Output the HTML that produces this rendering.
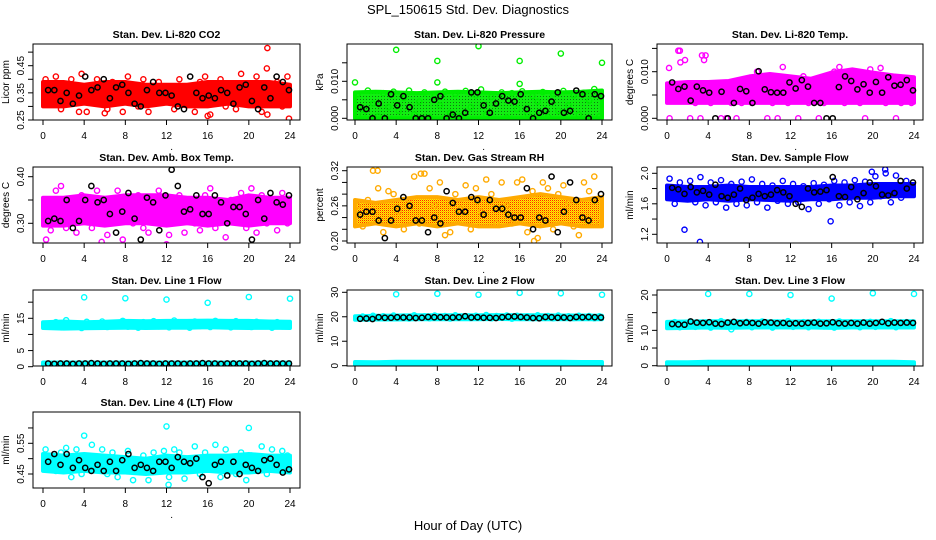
<!DOCTYPE html>
<html><head><meta charset="utf-8">
<style>
html,body{margin:0;padding:0;background:#fff;}
svg{display:block;font-family:"Liberation Sans",sans-serif;}
</style></head>
<body>
<svg id="chart" width="936" height="540" viewBox="0 0 936 540" xmlns="http://www.w3.org/2000/svg">
<defs>
<pattern id="pGreen" width="3" height="3" patternUnits="userSpaceOnUse"><rect width="3" height="3" fill="#11ee11"/><rect width="1" height="1" fill="#117711"/></pattern>
<pattern id="pRH" width="2" height="2" patternUnits="userSpaceOnUse"><rect width="2" height="2" fill="#ffee00"/><rect width="1" height="1" fill="#ff2200"/><rect x="1" y="1" width="1" height="1" fill="#ffaa00"/></pattern>
</defs>
<text x="468" y="14" text-anchor="middle" font-size="13">SPL_150615  Std. Dev. Diagnostics</text>
<text x="468" y="530" text-anchor="middle" font-size="13">Hour of Day (UTC)</text>
</svg>
<script>
// ---- data arrays (hours: band every 2h, points every 0.5h from 0.25, black every 0.6h from 0.5) ----
const xTicks = [0,4,8,12,16,20,24];

const co2Lo = [0.30,0.30,0.31,0.30,0.31,0.30,0.31,0.30,0.30,0.31,0.30,0.30,0.30];
const co2Hi = [0.39,0.39,0.38,0.39,0.39,0.38,0.38,0.38,0.39,0.39,0.39,0.39,0.38];
const co2Pts = [0.40,0.38,0.41,0.29,0.36,0.40,0.33,0.42,0.28,0.37,0.40,0.31,0.29,0.39,0.34,0.28,0.41,0.36,0.30,0.40,0.28,0.35,0.39,0.32,0.36,0.29,0.40,0.33,0.37,0.28,0.39,0.41,0.27,0.34,0.40,0.30,0.38,0.29,0.42,0.33,0.36,0.41,0.28,0.44,0.32,0.39,0.30,0.41];
const co2Blk = [0.36,0.36,0.32,0.35,0.31,0.34,0.41,0.36,0.37,0.40,0.33,0.37,0.38,0.35,0.31,0.30,0.36,0.39,0.35,0.35,0.34,0.30,0.29,0.41,0.35,0.33,0.34,0.33,0.36,0.35,0.31,0.37,0.38,0.32,0.29,0.37,0.33,0.41,0.39,0.36];
const co2OutH = [21.8,23.9,16,21.8,3.5,6];
const co2OutV = [0.515,0.255,0.265,0.27,0.28,0.275];

const presLo = [0,0,0,0,0,0,0,0,0,0,0,0,0];
const presHi = [0.0070,0.0072,0.0070,0.0068,0.0070,0.0072,0.0070,0.0068,0.0070,0.0072,0.0070,0.0072,0.0075];
const presPts = [0.0065,0.001,0.0075,0.004,0.0005,0.0068,0.003,0.0072,0.002,0.0055,0.0075,0.001,0.0045,0.007,0.0002,0.006,0.0035,0.0072,0.0015,0.0066,0.0005,0.0074,0.003,0.0062,0.0078,0.001,0.0058,0.004,0.007,0.0002,0.0068,0.0025,0.0073,0.0012,0.006,0.0045,0.0071,0.0003,0.0066,0.002,0.0074,0.0035,0.0062,0.001,0.0069,0.0048,0.0079,0.0005];
const presBlk = [0.003,0.0025,0,0.004,0,0.0065,0.0035,0.006,0.003,0,0,0,0.005,0.006,0,0.001,0,0.0015,0.007,0.007,0.0035,0.0015,0.004,0.006,0.0048,0.0045,0.0065,0.0025,0,0.0015,0.002,0.0045,0.007,0.0015,0.002,0.0075,0.0065,0,0.0065,0.006];
const presOutH = [0,4,8,8,12,16,16,20,24];
const presOutV = [0.0097,0.0185,0.0155,0.0097,0.0195,0.0155,0.0093,0.0175,0.015];

const tempLo = [0.0033,0.0033,0.0033,0.0033,0.0033,0.0033,0.0033,0.0033,0.0033,0.0033,0.0033,0.0033,0.0033];
const tempHi = [0.0075,0.0078,0.0078,0.0080,0.0090,0.0095,0.0090,0.0085,0.0098,0.0105,0.0098,0.0092,0.0088];
const tempPts = [0,0.0065,0.0145,0.0125,0,0.0033,0,0.0135,0.0033,0.0060,0,0,0.0033,0,0.0033,0.0085,0.0033,0.0100,0.0060,0,0.0033,0,0.0110,0.0033,0.0062,0,0.0090,0.0033,0.0070,0,0.0033,0.0045,0.0100,0.0110,0.0033,0.0095,0.0060,0.0033,0,0.0105,0.0090,0.0108,0.0033,0.0080,0,0.0033,0.0085,0.0033];
const tempBlk = [0.0077,0.0063,0.0068,0.0038,0.0068,0.006,0.0055,0,0.0057,0,0.0033,0.0063,0.0058,0.0033,0.0101,0.0062,0.0056,0.0055,0.0055,0.0077,0.0064,0.0082,0.0068,0.0033,0.0033,0,0,0.0067,0.0090,0.0080,0.0062,0.0073,0.0055,0.0078,0.0055,0.0088,0.0070,0.0072,0.0082,0.0060];
const tempOutH = [0.2,1.1,1.3,3.4,3.6];
const tempOutV = [0.0108,0.0145,0.0120,0.0135,0.0125];

const ambLo = [0.295,0.295,0.300,0.295,0.300,0.300,0.295,0.300,0.295,0.300,0.295,0.300,0.300];
const ambHi = [0.355,0.355,0.360,0.355,0.360,0.360,0.360,0.355,0.355,0.350,0.360,0.355,0.355];
const ambPts = [0.345,0.285,0.37,0.38,0.29,0.35,0.28,0.36,0.33,0.29,0.37,0.31,0.275,0.345,0.37,0.265,0.34,0.30,0.36,0.29,0.28,0.35,0.37,0.30,0.275,0.34,0.36,0.28,0.35,0.30,0.285,0.36,0.375,0.29,0.33,0.27,0.35,0.31,0.365,0.29,0.375,0.28,0.36,0.30,0.35,0.285,0.365,0.30];
const ambBlk = [0.305,0.31,0.305,0.35,0.29,0.305,0.35,0.38,0.345,0.35,0.32,0.28,0.325,0.365,0.31,0.265,0.355,0.345,0.285,0.36,0.415,0.38,0.325,0.33,0.36,0.32,0.32,0.36,0.345,0.30,0.335,0.335,0.32,0.265,0.35,0.31,0.365,0.345,0.34,0.36];
const ambOutH = [0.3,5.7,12.0];
const ambOutV = [0.265,0.26,0.255];

const rhLo = [0.225,0.23,0.225,0.23,0.225,0.23,0.225,0.225,0.23,0.225,0.23,0.225,0.225];
const rhHi = [0.270,0.265,0.270,0.275,0.275,0.270,0.275,0.270,0.275,0.280,0.275,0.270,0.275];
const rhPts = [0.26,0.225,0.27,0.32,0.29,0.215,0.285,0.28,0.25,0.22,0.27,0.31,0.23,0.315,0.29,0.26,0.30,0.21,0.215,0.28,0.255,0.295,0.22,0.29,0.25,0.305,0.28,0.23,0.30,0.26,0.23,0.30,0.305,0.215,0.285,0.205,0.30,0.29,0.22,0.28,0.295,0.265,0.225,0.21,0.30,0.285,0.31,0.23];
const rhBlk = [0.245,0.25,0.25,0.235,0.205,0.235,0.255,0.275,0.26,0.235,0.235,0.215,0.24,0.23,0.285,0.265,0.25,0.25,0.275,0.27,0.245,0.27,0.255,0.255,0.245,0.24,0.24,0.29,0.22,0.24,0.235,0.31,0.215,0.25,0.30,0.27,0.24,0.235,0.27,0.28];
const rhOutH = [17.4,2.2,6.4];
const rhOutV = [0.20,0.32,0.315];

const flowLo = [1.66,1.64,1.66,1.64,1.66,1.65,1.64,1.66,1.66,1.68,1.68,1.70,1.70];
const flowHi = [1.84,1.82,1.82,1.84,1.82,1.82,1.82,1.82,1.84,1.84,1.86,1.86,1.86];
const flowPts = [1.93,1.60,1.88,1.78,1.90,1.62,1.95,1.58,1.88,1.62,1.91,1.55,1.86,1.60,1.89,1.58,1.92,1.62,1.86,1.55,1.84,1.64,1.90,1.60,1.86,1.62,1.83,1.53,1.87,1.60,1.85,1.66,1.90,1.58,1.88,1.62,1.91,1.57,1.89,1.62,1.96,1.70,2.00,1.62,1.97,1.68,1.90,1.72];
const flowBlk = [1.81,1.79,1.73,1.82,1.75,1.77,1.72,1.85,1.70,1.68,1.72,1.80,1.65,1.68,1.73,1.70,1.72,1.78,1.75,1.70,1.60,1.56,1.80,1.75,1.76,1.78,1.95,1.70,1.69,1.82,1.66,1.74,1.88,1.83,1.72,1.71,1.74,1.90,1.80,1.88];
const flowOutH = [1.7,3.2,15.9,19.9,21.2];
const flowOutV = [1.26,1.10,1.37,2.02,2.05];

const l1Lo = [12.0,11.8,11.9,12.0,12.1,12.0,12.1,12.1,12.2,12.1,12.0,12.1,12.0];
const l1Hi = [13.8,14.0,13.8,13.9,14.2,14.1,14.2,14.2,14.3,14.2,14.2,14.0,13.9];
const l1LowLo = [0.3,0.3,0.3,0.3,0.3,0.3,0.3,0.3,0.3,0.3,0.3,0.3,0.3];
const l1LowHi = [1.3,1.3,1.3,1.3,1.3,1.3,1.3,1.3,1.3,1.3,1.3,1.3,1.3];
const l1Pts = [13.2,12.5,13.8,12.2,14.4,12.8,13.4,12.0,13.9,12.6,13.1,14.0,12.3,13.6,12.9,14.2,12.4,13.5,12.1,13.8,12.7,14.1,12.5,13.3,12.2,14.3,12.9,13.6,12.1,14.0,12.6,13.7,12.3,14.2,12.8,13.4,12.2,14.1,12.7,13.5,12.3,13.9,12.6,13.2,12.1,13.8,12.5,13.4];
const l1Blk = [1.0,0.9,1.0,1.0,0.9,1.0,1.0,1.1,1.0,0.9,1.0,1.0,1.0,0.9,1.0,1.1,1.0,1.0,0.9,1.0,1.0,1.0,0.9,1.0,1.0,1.1,1.0,1.0,0.9,1.0,1.0,1.0,1.0,0.9,1.0,1.1,1.0,1.0,1.0,1.0];
const l1OutH = [4,8,12,16,20,24];
const l1OutV = [21.5,21.2,20.8,19.8,21.6,21.1];

const l2Lo = [18.8,18.9,18.9,19.0,19.0,19.0,19.0,19.1,19.0,19.0,19.0,19.0,19.0];
const l2Hi = [20.2,20.4,20.5,20.6,20.6,20.6,20.6,20.7,20.6,20.6,20.5,20.5,20.4];
const l2LowLo = [0.3,0.3,0.3,0.3,0.3,0.3,0.3,0.3,0.3,0.3,0.3,0.3,0.3];
const l2LowHi = [1.5,1.4,1.6,1.6,1.6,1.6,1.6,1.6,1.6,1.6,1.6,1.5,1.5];
const l2Pts = [19.5,20.1,19.2,20.4,19.6,20.2,19.4,20.5,19.8,20.1,19.3,20.6,19.7,20.2,19.4,20.5,19.9,20.3,19.3,20.6,19.7,20.2,19.5,20.4,19.8,20.7,19.4,20.3,19.6,20.5,19.2,20.4,19.8,20.2,19.5,20.6,19.7,20.3,19.4,20.5,19.9,20.2,19.5,20.4,19.6,20.3,19.4,20.2];
const l2Blk = [19.2,19.3,19.1,19.8,19.6,19.6,19.8,19.7,19.7,19.5,19.6,19.9,19.8,19.8,19.7,19.7,19.8,20.2,19.7,19.8,19.6,19.6,19.5,19.8,20.0,20.1,19.9,19.7,19.5,19.4,19.9,19.8,19.6,19.7,19.5,19.9,19.8,19.9,19.8,19.7];
const l2OutH = [4,8,12,16,20,24];
const l2OutV = [29.2,29.4,29.0,29.8,29.6,29.0];

const l3Lo = [10.6,10.7,10.8,10.7,10.8,10.8,10.8,10.8,10.7,10.8,10.8,10.8,10.8];
const l3Hi = [12.4,12.5,12.6,12.6,12.6,12.6,12.5,12.6,12.6,12.6,12.6,12.6,12.6];
const l3LowLo = [0.2,0.2,0.2,0.2,0.2,0.2,0.2,0.2,0.2,0.2,0.2,0.2,0.2];
const l3LowHi = [1.0,1.0,1.1,1.1,1.1,1.1,1.1,1.1,1.1,1.1,1.1,1.1,1.0];
const l3Pts = [11.2,12.3,10.9,11.8,12.5,11.0,11.6,12.2,10.8,11.9,12.6,11.1,10.3,12.1,11.4,12.4,10.9,11.7,12.5,11.2,10.8,12.2,11.5,12.6,11.0,11.8,12.3,10.9,11.6,12.4,11.1,12.0,10.8,12.5,11.3,11.9,12.2,10.9,11.6,12.4,11.0,12.1,11.5,12.6,10.9,11.8,12.3,11.2];
const l3Blk = [11.8,11.7,11.6,12.5,12.2,12.1,12.3,11.9,11.8,12.2,12.4,12.0,12.2,12.1,11.9,12.3,12.2,12.0,12.1,11.9,12.0,11.9,12.1,12.2,11.9,12.0,12.3,12.0,11.9,12.1,11.9,12.2,11.9,12.1,12.4,12.0,12.2,12.1,12.2,12.1];
const l3OutH = [4,8,12,16,20,24];
const l3OutV = [20.3,20.3,20.0,19.0,20.5,20.3];

const l4Lo = [0.460,0.455,0.460,0.455,0.455,0.450,0.455,0.455,0.460,0.455,0.455,0.460,0.455];
const l4Hi = [0.515,0.510,0.515,0.510,0.505,0.500,0.510,0.505,0.510,0.510,0.515,0.510,0.510];
const l4Pts = [0.53,0.47,0.46,0.52,0.535,0.44,0.53,0.45,0.50,0.545,0.48,0.53,0.45,0.52,0.44,0.50,0.525,0.43,0.49,0.51,0.43,0.52,0.48,0.525,0.44,0.53,0.52,0.435,0.50,0.54,0.45,0.52,0.48,0.545,0.44,0.53,0.50,0.45,0.52,0.43,0.51,0.47,0.54,0.45,0.53,0.49,0.525,0.51];
const l4Blk = [0.49,0.515,0.48,0.515,0.47,0.495,0.47,0.46,0.48,0.46,0.49,0.46,0.495,0.515,0.47,0.48,0.47,0.46,0.49,0.49,0.47,0.505,0.49,0.485,0.50,0.44,0.42,0.48,0.49,0.445,0.49,0.45,0.48,0.47,0.46,0.495,0.50,0.48,0.455,0.465];
const l4OutH = [12,20,4,12.2];
const l4OutV = [0.605,0.60,0.575,0.415];

// ---- layout (not data) ----
const colBox = [[33,300],[347,612],[657,923]];
const colX0 = [43,355,667];
const pxPerHr = 247/24;
const rowTop = [44,167,290,412];
const boxH = 76;

const panels = [
 {id:'co2',title:'Stan. Dev. Li-820 CO2',ylab:'Licor ppm',r:0,c:0,v0:0.25,p0:120,v1:0.45,p1:65.7,ticks:[0.25,0.30,0.35,0.40,0.45,0.50],labels:['0.25','0.35','0.45'],color:'#ff0000',fill:'#ff0000',lo:co2Lo,hi:co2Hi,pts:co2Pts,blk:co2Blk,oh:co2OutH,ov:co2OutV,dot:true},
 {id:'pressure',title:'Stan. Dev. Li-820 Pressure',ylab:'kPa',r:0,c:1,v0:0,p0:118.3,v1:0.01,p1:81.3,ticks:[0,0.005,0.01,0.015],labels:['0.000','0.010'],color:'#00ee00',fill:'url(#pGreen)',lo:presLo,hi:presHi,pts:presPts,blk:presBlk,oh:presOutH,ov:presOutV,dot:true},
 {id:'temp',title:'Stan. Dev. Li-820 Temp.',ylab:'degrees C',r:0,c:2,v0:0,p0:118.3,v1:0.01,p1:71.7,ticks:[0,0.005,0.01,0.015],labels:['0.000','0.010'],color:'#ff00ff',fill:'#ff00ff',lo:tempLo,hi:tempHi,pts:tempPts,blk:tempBlk,oh:tempOutH,ov:tempOutV,dot:true},
 {id:'ambbox',title:'Stan. Dev. Amb. Box Temp.',ylab:'degrees C',r:1,c:0,v0:0.30,p0:223.3,v1:0.40,p1:176.7,ticks:[0.30,0.35,0.40],labels:['0.30','0.40'],color:'#ff00ff',fill:'#ff00ff',lo:ambLo,hi:ambHi,pts:ambPts,blk:ambBlk,oh:ambOutH,ov:ambOutV,dot:false},
 {id:'rh',title:'Stan. Dev. Gas Stream RH',ylab:'percent',r:1,c:1,v0:0.20,p0:241,v1:0.32,p1:170.7,ticks:[0.20,0.22,0.24,0.26,0.28,0.30,0.32],labels:['0.20','0.26','0.32'],color:'#ffaa00',fill:'url(#pRH)',lo:rhLo,hi:rhHi,pts:rhPts,blk:rhBlk,oh:rhOutH,ov:rhOutV,dot:true},
 {id:'sampleflow',title:'Stan. Dev. Sample Flow',ylab:'ml/min',r:1,c:2,v0:1.2,p0:234.3,v1:2.0,p1:173.3,ticks:[1.2,1.4,1.6,1.8,2.0],labels:['1.2','1.6','2.0'],color:'#0000ff',fill:'#0000ff',lo:flowLo,hi:flowHi,pts:flowPts,blk:flowBlk,oh:flowOutH,ov:flowOutV,dot:false},
 {id:'line1',title:'Stan. Dev. Line 1 Flow',ylab:'ml/min',r:2,c:0,v0:0,p0:366.7,v1:15,p1:318.3,ticks:[0,5,10,15,20],labels:['0','5','15'],color:'#00ffff',fill:'#00ffff',lo:l1Lo,hi:l1Hi,lowLo:l1LowLo,lowHi:l1LowHi,pts:l1Pts,blk:l1Blk,oh:l1OutH,ov:l1OutV,dot:false},
 {id:'line2',title:'Stan. Dev. Line 2 Flow',ylab:'ml/min',r:2,c:1,v0:0,p0:365.7,v1:30,p1:292.3,ticks:[0,10,20,30],labels:['0','10','20','30'],color:'#00ffff',fill:'#00ffff',lo:l2Lo,hi:l2Hi,lowLo:l2LowLo,lowHi:l2LowHi,pts:l2Pts,blk:l2Blk,oh:l2OutH,ov:l2OutV,dot:false},
 {id:'line3',title:'Stan. Dev. Line 3 Flow',ylab:'ml/min',r:2,c:2,v0:0,p0:365.7,v1:20,p1:295,ticks:[0,5,10,15,20],labels:['0','5','10','20'],color:'#00ffff',fill:'#00ffff',lo:l3Lo,hi:l3Hi,lowLo:l3LowLo,lowHi:l3LowHi,pts:l3Pts,blk:l3Blk,oh:l3OutH,ov:l3OutV,dot:false},
 {id:'line4',title:'Stan. Dev. Line 4 (LT) Flow',ylab:'ml/min',r:3,c:0,v0:0.45,p0:474,v1:0.55,p1:443.3,ticks:[0.45,0.50,0.55,0.60],labels:['0.45','0.55'],color:'#00ffff',fill:'#00ffff',lo:l4Lo,hi:l4Hi,pts:l4Pts,blk:l4Blk,oh:l4OutH,ov:l4OutV,dot:true}
];

const NS = 'http://www.w3.org/2000/svg';
const svg = document.getElementById('chart');
function mk(tag, attrs, parent){
  const e = document.createElementNS(NS, tag);
  for (const k in attrs) e.setAttribute(k, attrs[k]);
  (parent||svg).appendChild(e);
  return e;
}

panels.forEach(p => {
  const g = mk('g', {});
  
  
  const L = colBox[p.c][0], R = colBox[p.c][1], T = rowTop[p.r], B = T + boxH;
  const x = h => colX0[p.c] + h * pxPerHr;
  const y = v => p.p0 + (v - p.v0) * (p.p1 - p.p0) / (p.v1 - p.v0);
  const clipId = 'clip-' + p.id;
  const cp = mk('clipPath', {id: clipId}, g);
  mk('rect', {x:L, y:T, width:R-L, height:boxH}, cp);
  const plot = mk('g', {'clip-path':'url(#' + clipId + ')'}, g);

  function band(lo, hi, name){
    let pts = [];
    hi.forEach((v,i) => pts.push(x(i*2).toFixed(1) + ',' + y(v).toFixed(1)));
    for (let i = lo.length-1; i >= 0; i--) pts.push(x(i*2).toFixed(1) + ',' + y(lo[i]).toFixed(1));
    const b = mk('polygon', {points: pts.join(' '), fill: p.fill, stroke: p.fill.startsWith('url') ? p.color : p.fill, 'stroke-width': 4, 'stroke-linejoin':'round'}, plot);
    
    
  }
  band(p.lo, p.hi, 'cloud-band');
  if (p.lowLo) band(p.lowLo, p.lowHi, 'low-cloud-band');

  const sc = p.color;
  p.pts.forEach((v,i) => {
    const c = mk('circle', {cx: x(0.25 + i*0.5), cy: y(v), r: 2.6, fill: 'none', stroke: sc, 'stroke-width': 1.4}, plot);
    
    
  });
  p.oh.forEach((h,i) => {
    const c = mk('circle', {cx: x(h), cy: y(p.ov[i]), r: 2.6, fill: 'none', stroke: sc, 'stroke-width': 1.4}, plot);
    
    
  });
  p.blk.forEach((v,i) => {
    const c = mk('circle', {cx: x(0.5 + i*0.6), cy: y(v), r: 2.6, fill: 'none', stroke: '#000', 'stroke-width': 1.5}, plot);
    
    
  });

  const box = mk('rect', {x:L, y:T, width:R-L, height:boxH, fill:'none', stroke:'#000', 'stroke-width':1}, g);
  
  

  const t = mk('text', {x:(L+R)/2, y:T-6, 'text-anchor':'middle', 'font-size':10.5, 'font-weight':'bold'}, g);
  t.textContent = p.title;
  
  

  const yl = mk('text', {x:0, y:0, transform:'translate(' + (L-24) + ',' + (T+boxH/2) + ') rotate(-90)', 'text-anchor':'middle', 'font-size':10}, g);
  yl.textContent = p.ylab;
  
  

  p.ticks.forEach(v => {
    const yy = y(v);
    mk('line', {x1:L-5, x2:L, y1:yy, y2:yy, stroke:'#000', 'stroke-width':1}, g);
  });
  p.labels.forEach(s => {
    const yy = y(parseFloat(s));
    const tl = mk('text', {x:0, y:0, transform:'translate(' + (L-9) + ',' + yy + ') rotate(-90)', 'text-anchor':'middle', 'font-size':10}, g);
    tl.textContent = s;
    
    
  });
  xTicks.forEach(h => {
    const xx = x(h);
    mk('line', {x1:xx, x2:xx, y1:B, y2:B+5, stroke:'#000', 'stroke-width':1}, g);
    const tl = mk('text', {x:xx, y:B+19, 'text-anchor':'middle', 'font-size':10}, g);
    tl.textContent = String(h);
    
    
  });
  if (p.dot) {
    const d = mk('text', {x:x(12.5), y:B+30, 'text-anchor':'middle', 'font-size':10}, g);
    d.textContent = '.';
    
    
  }
});
</script>
</body></html>
